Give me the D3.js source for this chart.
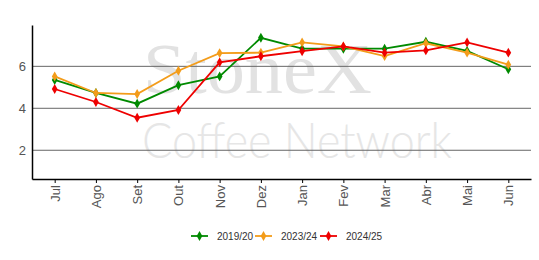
<!DOCTYPE html>
<html>
<head>
<meta charset="utf-8">
<script src="https://cdn.jsdelivr.net/npm/d3@7"></script>
<style>
  body { margin: 0; background: #fff; }
  svg { display: block; font-family: "Liberation Sans", Arial, sans-serif; }
</style>
</head>
<body>
<svg id="chart"></svg>
<script>
const months = ["Jul", "Ago", "Set", "Out", "Nov", "Dez", "Jan", "Fev", "Mar", "Abr", "Mai", "Jun"];
const seriesNames = ["2019/20", "2023/24", "2024/25"];
const values2019 = [5.35, 4.73, 4.22, 5.10, 5.52, 7.36, 6.84, 6.84, 6.84, 7.17, 6.74, 5.86];
const values2023 = [5.52, 4.73, 4.68, 5.79, 6.63, 6.65, 7.14, 6.95, 6.49, 7.10, 6.65, 6.08];
const values2024 = [4.92, 4.30, 3.55, 3.92, 6.19, 6.48, 6.72, 6.95, 6.65, 6.76, 7.14, 6.65];
const yTicks = [2, 4, 6];

const colors = ["#008a00", "#f39c1a", "#ee0000"];
const series = [values2019, values2023, values2024].map((v, i) => ({
  name: seriesNames[i],
  color: colors[i],
  values: v
}));

const width = 539;
const height = 260;
const margin = { top: 25, right: 8, bottom: 81, left: 32 };

const svg = d3.select("#chart").attr("width", width).attr("height", height);

const x = d3
  .scalePoint()
  .domain(months)
  .range([margin.left, width - margin.right])
  .padding(0.55);

const y = d3
  .scaleLinear()
  .domain([0.63, 7.97])
  .range([height - margin.bottom, margin.top]);

// watermark
svg
  .append("text")
  .attr("x", 143)
  .attr("y", 93)
  .attr("textLength", 229)
  .attr("lengthAdjust", "spacingAndGlyphs")
  .style("font-family", "'Liberation Serif', 'Times New Roman', serif")
  .style("font-size", "72px")
  .attr("fill", "#e2e2e2")
  .text("StoneX");

svg
  .append("text")
  .attr("x", 142)
  .attr("y", 158)
  .attr("textLength", 310)
  .attr("lengthAdjust", "spacingAndGlyphs")
  .style("font-family", "Lato, 'Open Sans', sans-serif")
  .style("font-weight", 300)
  .style("font-size", "50px")
  .attr("fill", "#e6e6e6")
  .text("Coffee Network");

// gridlines
svg
  .append("g")
  .selectAll("line")
  .data(yTicks)
  .join("line")
  .attr("x1", margin.left)
  .attr("x2", width - margin.right)
  .attr("y1", (d) => y(d))
  .attr("y2", (d) => y(d))
  .attr("stroke", "#666")
  .attr("stroke-width", 1);

// y axis
const yAxis = svg
  .append("g")
  .attr("transform", `translate(${margin.left},0)`)
  .call(d3.axisLeft(y).tickValues(yTicks).tickSize(0).tickPadding(6));
yAxis.select(".domain").attr("stroke", "#000").attr("stroke-width", 1.5);
yAxis.selectAll("text").attr("fill", "#555").style("font-size", "13px");

// x axis
const xAxis = svg
  .append("g")
  .attr("transform", `translate(0,${height - margin.bottom})`)
  .call(d3.axisBottom(x).tickSize(4).tickSizeOuter(0));
xAxis.select(".domain").attr("stroke", "#000").attr("stroke-width", 1.5);
xAxis.selectAll(".tick line").attr("stroke", "#000");
xAxis
  .selectAll("text")
  .attr("fill", "#555")
  .style("font-size", "13px")
  .attr("transform", "rotate(-90)")
  .attr("text-anchor", "end")
  .attr("x", -6)
  .attr("y", 0)
  .attr("dy", "0.35em");

// lines
const line = d3
  .line()
  .x((d, i) => x(months[i]))
  .y((d) => y(d));

const diamond = d3.symbol().type(d3.symbolDiamond).size(28);

series.forEach((s) => {
  const g = svg.append("g");
  g.append("path")
    .attr("d", line(s.values))
    .attr("fill", "none")
    .attr("stroke", s.color)
    .attr("stroke-width", 1.8);
  g.selectAll("path.pt")
    .data(s.values)
    .join("path")
    .attr("class", "pt")
    .attr("d", diamond)
    .attr("transform", (d, i) => `translate(${x(months[i])},${y(d)})`)
    .attr("fill", s.color);
});

// legend
const legendX = [191, 255, 320];
const legend = svg
  .append("g")
  .selectAll("g")
  .data(series)
  .join("g")
  .attr("transform", (d, i) => `translate(${legendX[i]},236)`);
legend
  .append("line")
  .attr("x1", 0)
  .attr("x2", 17)
  .attr("stroke", (d) => d.color)
  .attr("stroke-width", 1.8);
legend
  .append("path")
  .attr("d", diamond)
  .attr("transform", "translate(8.5,0)")
  .attr("fill", (d) => d.color);
legend
  .append("text")
  .attr("x", 26)
  .attr("dy", "0.35em")
  .attr("fill", "#333")
  .style("font-size", "10px")
  .text((d) => d.name);
</script>
</body>
</html>
